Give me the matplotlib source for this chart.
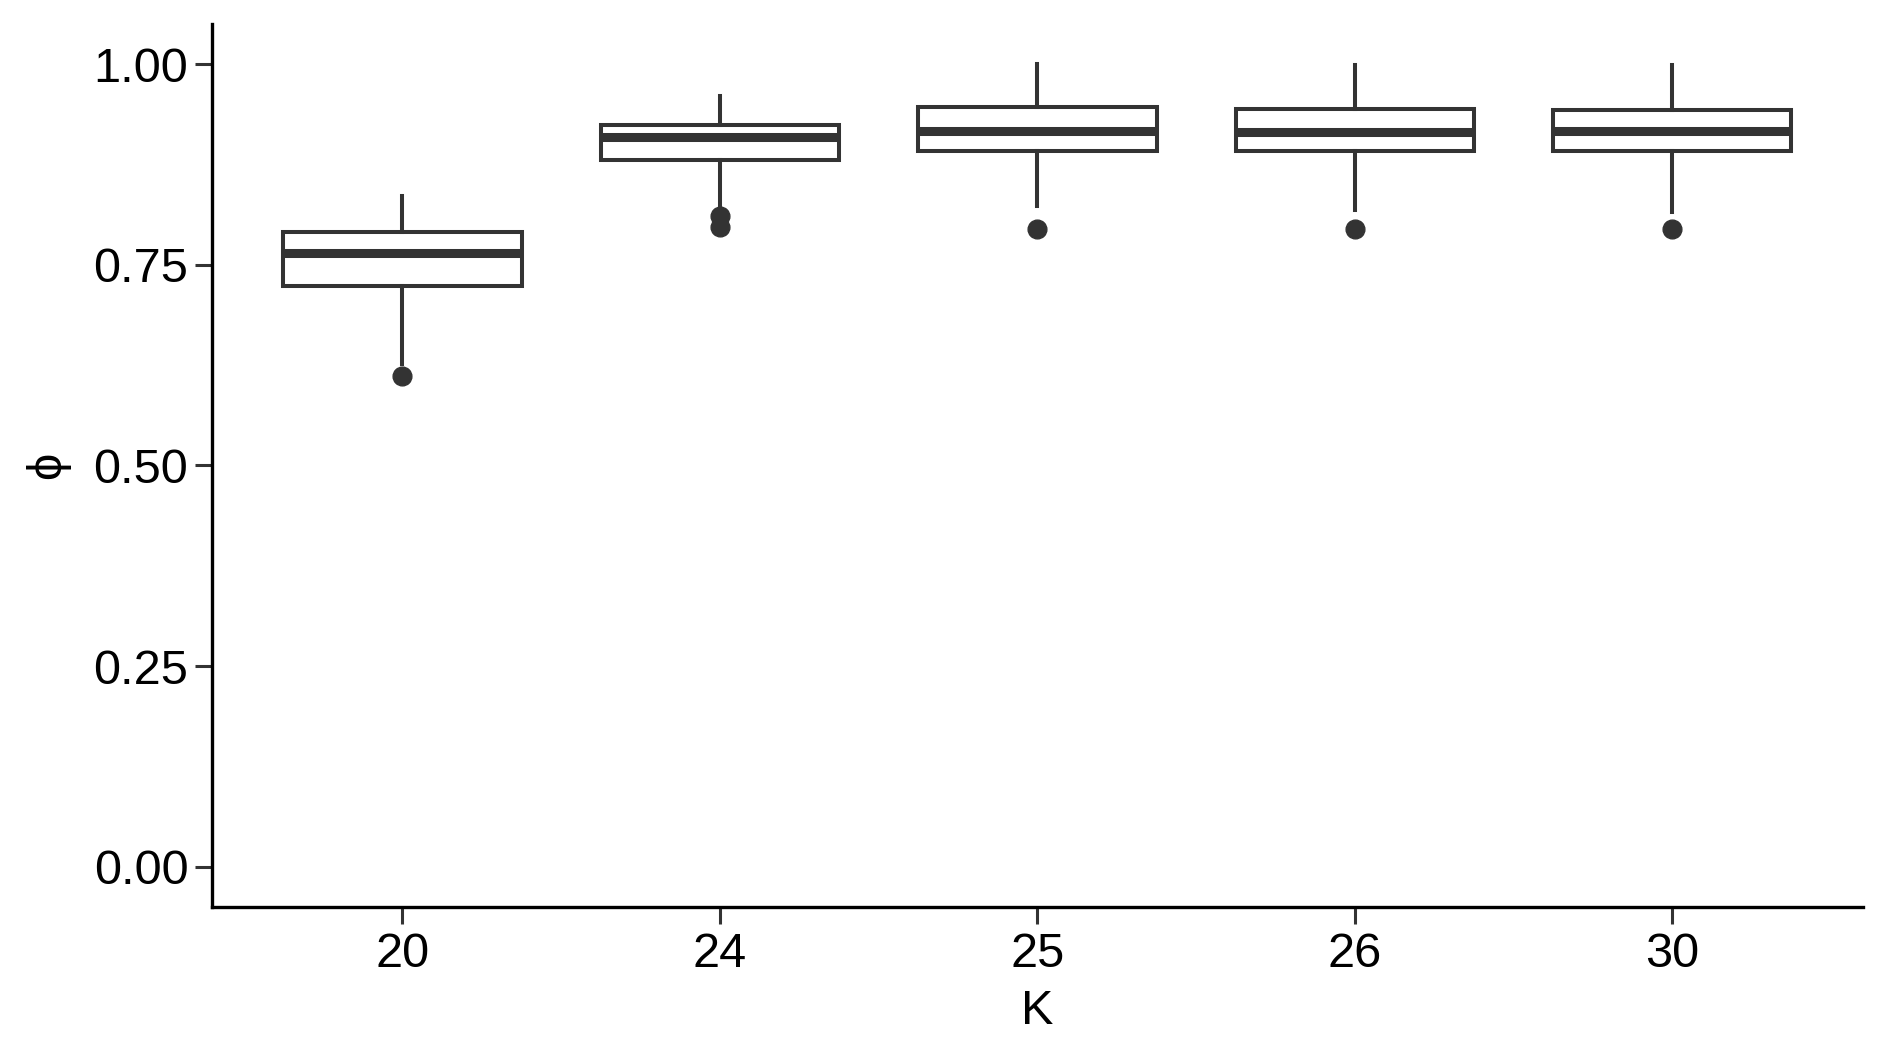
import matplotlib.pyplot as plt

# box summary values (phi by K)
k_labels = ["20", "24", "25", "26", "30"]
whisker_low = [0.627, 0.822, 0.823, 0.818, 0.816]
q1 = [0.723, 0.880, 0.892, 0.892, 0.892]
median = [0.765, 0.909, 0.917, 0.916, 0.917]
q3 = [0.791, 0.924, 0.946, 0.944, 0.943]
whisker_high = [0.836, 0.960, 1.000, 0.999, 0.999]
outliers = [[0.612], [0.811, 0.797], [0.795], [0.794], [0.794]]

plt.rcParams['font.family'] = ['Liberation Sans', 'DejaVu Sans']
dark = '#333333'

stats = []
for i in range(len(k_labels)):
    stats.append({'label': k_labels[i], 'whislo': whisker_low[i], 'q1': q1[i],
                  'med': median[i], 'q3': q3[i], 'whishi': whisker_high[i],
                  'fliers': outliers[i]})

fig = plt.figure(figsize=(18.89, 10.62), dpi=100)
ax = fig.add_axes([0.1122, 0.146, 0.8740, 0.8314])

ax.bxp(stats, positions=range(1, 6), widths=0.75, showcaps=False, patch_artist=True,
       boxprops=dict(facecolor='white', edgecolor=dark, linewidth=2.9),
       whiskerprops=dict(color=dark, linewidth=2.9),
       medianprops=dict(color=dark, linewidth=6.5, solid_capstyle='butt'),
       flierprops=dict(marker='o', markerfacecolor=dark, markeredgecolor=dark, markersize=13.5))

ax.set_xlim(0.4, 5.6)
ax.set_ylim(-0.05, 1.05)
ax.set_yticks([0, 0.25, 0.5, 0.75, 1.0])
ax.set_yticklabels(["0.00", "0.25", "0.50", "0.75", "1.00"])
ax.set_xticks(range(1, 6))
ax.set_xticklabels(k_labels)

for s in ['top', 'right']:
    ax.spines[s].set_visible(False)
for s in ['left', 'bottom']:
    ax.spines[s].set_linewidth(2.4)
    ax.spines[s].set_color('black')

ax.tick_params(axis='both', length=12, width=2.2, color=dark, labelsize=35, labelcolor='black')
ax.tick_params(axis='x', pad=6)
ax.tick_params(axis='y', pad=5)

ax.set_xlabel("K", fontsize=35, labelpad=9)
ax.set_ylabel("\u03d5", fontsize=35, labelpad=17)

fig.savefig('out.png', dpi=100)
